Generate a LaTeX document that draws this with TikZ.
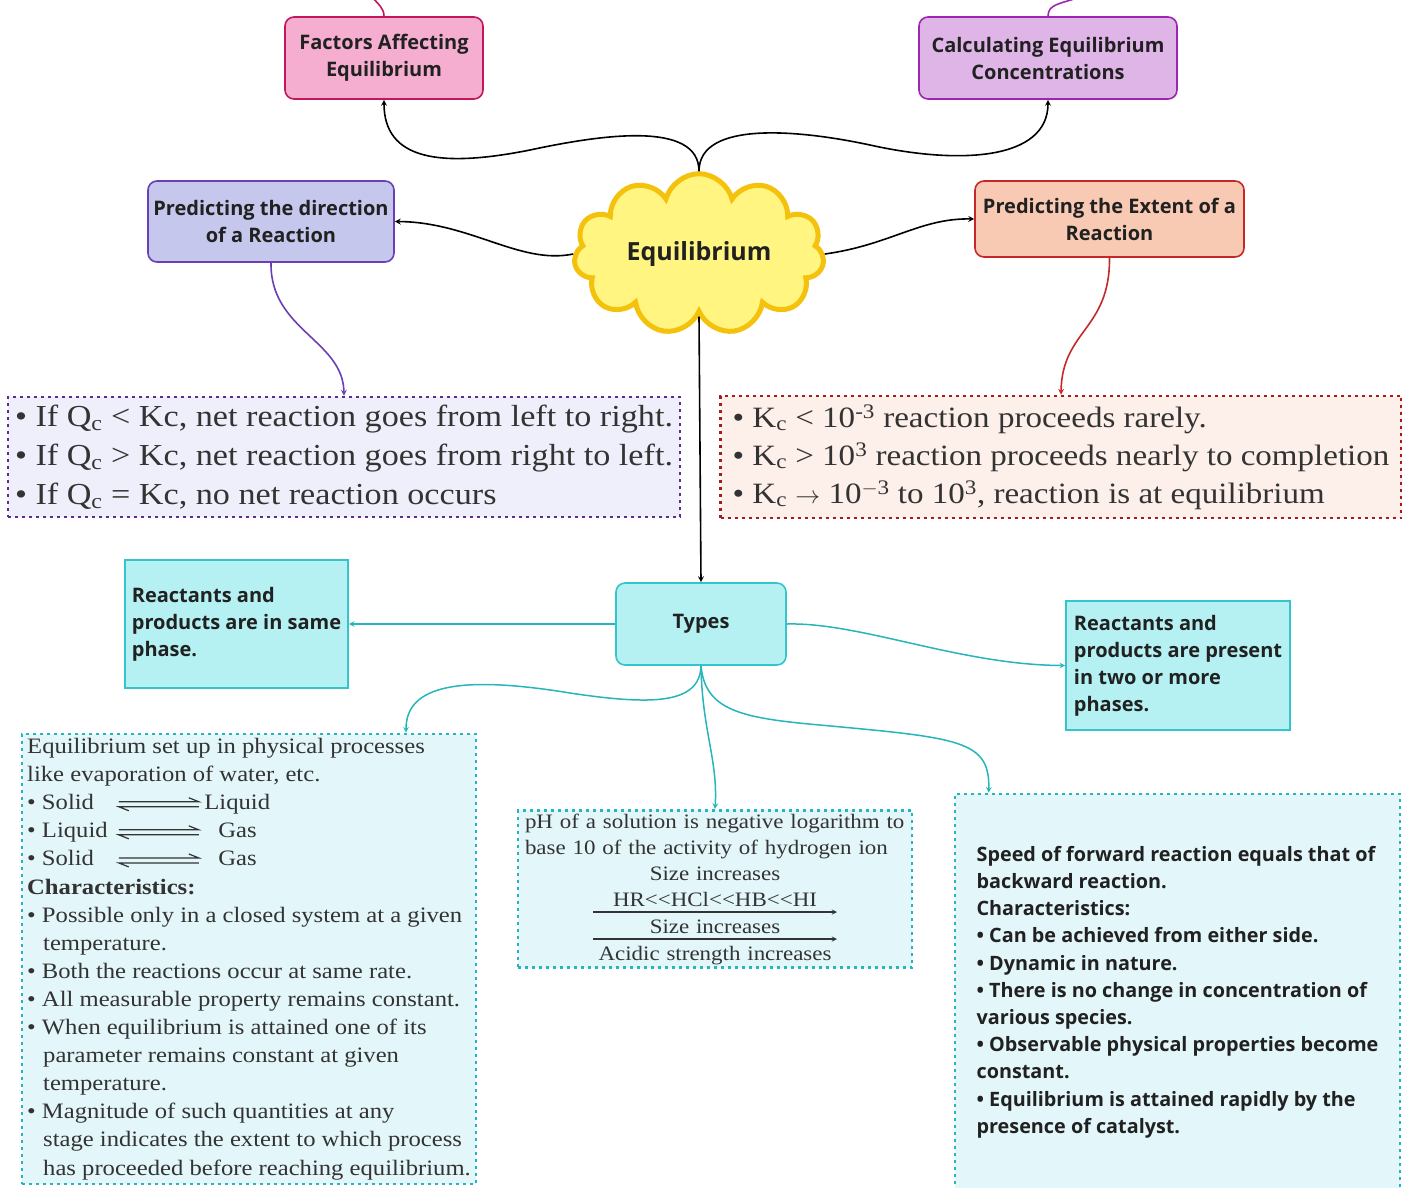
\documentclass[tikz,border=0pt]{standalone}
\usepackage{fontspec}
\setmainfont[FakeStretch=1.12]{Liberation Serif}
\setsansfont{Open Sans}
\usetikzlibrary{arrows.meta, positioning, shapes.symbols, calc}
\definecolor{rosaF}{HTML}{F5AECF}
\definecolor{rosaB}{HTML}{C2185B}
\definecolor{lilasF}{HTML}{DFB5E8}
\definecolor{lilasB}{HTML}{9C27B0}
\definecolor{lavF}{HTML}{C6C7EC}
\definecolor{lavB}{HTML}{6A3FB5}
\definecolor{pessF}{HTML}{F8C9B3}
\definecolor{pessB}{HTML}{C62828}
\definecolor{nuvF}{HTML}{FFF580}
\definecolor{nuvB}{HTML}{F4C20D}
\definecolor{qF}{HTML}{EFEFFB}
\definecolor{qB}{HTML}{5C2D91}
\definecolor{kF}{HTML}{FDEFE9}
\definecolor{kB}{HTML}{A61C1C}
\definecolor{tipoF}{HTML}{B5F1F3}
\definecolor{tipoB}{HTML}{35C4CB}
\definecolor{azulF}{HTML}{E3F6FA}
\definecolor{tealB}{HTML}{26B5BA}
\newcommand{\equilseta}{\tikz[baseline=0pt]{\draw[line width=1.2pt, solid, color=black!80] (0pt,8pt) -- (80pt,8pt) -- (70pt,12pt); \draw[line width=1.2pt, solid, color=black!80] (80pt,3pt) -- (0pt,3pt) -- (10pt,-1pt);}}
\newcommand{\setaph}{\tikz[baseline=0pt]{\draw[->, >=stealth, line width=1.3pt, solid, color=black!80] (0pt,0pt) -- (244pt,0pt);}}

\begin{document}
\begin{tikzpicture}[x=1pt, y=-1pt,
    caixa/.style={
        draw,
        line width=1.6pt,
        rounded corners=9pt,
        align=center,
        text=black!87,
        font=\sffamily\bfseries\fontsize{20}{27}\selectfont
    },
    tipo/.style={
        draw=tipoB,
        fill=tipoF,
        line width=1.6pt,
        align=left,
        text=black!87,
        font=\sffamily\bfseries\fontsize{20}{27}\selectfont
    },
    pontilhado/.style={
        draw,
        line width=2.6pt,
        dash pattern=on 3pt off 4pt,
        align=left,
        text=black!80
    },
    seta/.style={
        ->,
        >=stealth,
        line width=1.6pt
    },
    tseta/.style={
        seta,
        color=tealB,
        line width=1.5pt
    }
]

\useasboundingbox (0,0) rectangle (1402,1187);

% Equilibrium
\node[cloud, cloud puffs=11, aspect=1.8, draw=nuvB, fill=nuvF, line width=5pt,
      minimum width=250pt, minimum height=140pt, text=black!87,
      font=\sffamily\bfseries\fontsize{25}{30}\selectfont] (equil) at (699,254) {Equilibrium};

% Caixas de cima
\node[caixa, draw=rosaB, fill=rosaF, minimum width=198pt, minimum height=82pt] (fatores) at (384,58)
{Factors Affecting\\Equilibrium};
\node[caixa, draw=lilasB, fill=lilasF, minimum width=258pt, minimum height=82pt] (calculo) at (1048,58)
{Calculating Equilibrium\\Concentrations};
\node[caixa, draw=lavB, fill=lavF, minimum width=246pt, minimum height=81pt] (direcao) at (271,221.5)
{Predicting the direction\\of a Reaction};
\node[caixa, draw=pessB, fill=pessF, minimum width=269pt, minimum height=76pt] (extensao) at (1109.5,219)
{Predicting the Extent of a\\Reaction};

% Quociente e constante
\node[pontilhado, draw=qB, fill=qF, minimum width=672pt, minimum height=120pt, inner sep=3pt,
      font=\fontsize{30.5}{39}\selectfont] (quociente) at (344,457)
{• If Q\textsubscript{c} < Kc, net reaction goes from left to right.\\
 • If Q\textsubscript{c} > Kc, net reaction goes from right to left.\\
 • If Q\textsubscript{c} = Kc, no net reaction occurs};
\node[pontilhado, draw=kB, fill=kF, minimum width=681pt, minimum height=122pt, inner sep=3pt,
      font=\fontsize{29.5}{38}\selectfont] (constante) at (1061,457)
{• K\textsubscript{c} < 10\textsuperscript{-3} reaction proceeds rarely.\\
 • K\textsubscript{c} > 10\textsuperscript{3} reaction proceeds nearly to completion\\
 • K\textsubscript{c} $\rightarrow$ 10\textsuperscript{$-$3} to 10\textsuperscript{3}, reaction is at equilibrium};

% Tipos
\node[caixa, draw=tipoB, fill=tipoF, minimum width=170pt, minimum height=82pt] (tipos) at (701,624) {Types};
\node[tipo, minimum width=223pt, minimum height=128pt] (homog) at (236.5,624)
{Reactants and\\products are in same\\phase.};
\node[tipo, minimum width=224pt, minimum height=129pt] (heterog) at (1178,665.5)
{Reactants and\\products are present\\in two or more\\phases.};

% Caixas de baixo
\node[pontilhado, draw=tealB, fill=azulF, minimum width=454pt, minimum height=450pt, inner sep=3pt,
      font=\fontsize{22}{28.1}\selectfont] (fisico) at (249,959)
{Equilibrium set up in physical processes\\
 like evaporation of water, etc.\\
 \makebox[91pt][l]{• Solid}\equilseta\hspace{5pt}Liquid\\
 \makebox[91pt][l]{• Liquid}\equilseta\hspace{19pt}Gas\\
 \makebox[91pt][l]{• Solid}\equilseta\hspace{19pt}Gas\\
 \textbf{Characteristics:}\\
 • Possible only in a closed system at a given\\
 \hspace*{16pt}temperature.\\
 • Both the reactions occur at same rate.\\
 • All measurable property remains constant.\\
 • When equilibrium is attained one of its\\
 \hspace*{16pt}parameter remains constant at given\\
 \hspace*{16pt}temperature.\\
 • Magnitude of such quantities at any\\
 \hspace*{16pt}stage indicates the extent to which process\\
 \hspace*{16pt}has proceeded before reaching equilibrium.};
\node[pontilhado, draw=tealB, fill=azulF, text width=380pt, minimum height=154pt, inner xsep=7pt,
      font=\fontsize{20.5}{26}\selectfont] (ph) at (715,889)
{\mbox{pH of a solution is negative logarithm to}\\
 \mbox{base 10 of the activity of hydrogen ion}\par
 {\centering Size increases\\
  HR<{}<HCl<{}<HB<{}<HI\\[-20pt]
  \setaph\\[-5pt]
  Size increases\\[-20pt]
  \setaph\\[-5pt]
  Acidic strength increases\par}};
\node[pontilhado, draw=tealB, fill=azulF, minimum width=445pt, minimum height=396pt,
      text=black!87, font=\sffamily\bfseries\fontsize{19.8}{27.2}\selectfont] (dinamico) at (1177.5,992)
{Speed of forward reaction equals that of\\
 backward reaction.\\
 Characteristics:\\
 • Can be achieved from either side.\\
 • Dynamic in nature.\\
 • There is no change in concentration of\\
 various species.\\
 • Observable physical properties become\\
 constant.\\
 • Equilibrium is attained rapidly by the\\
 presence of catalyst.};

% Linhas que saem da figura
\coordinate (sobeF) at (372,-3);
\coordinate (sobeC) at (1080,-3);
\draw[line width=1.6pt, rosaB] (fatores.north) .. controls (384,8) and (378,4) .. (sobeF);
\draw[line width=1.6pt, lilasB] (calculo.north) .. controls (1048,4) and (1060,4) .. (sobeC);

% Setas
\draw[seta] (equil.north) .. controls (699,120) and (600,135) .. (530,150) .. controls (440,168) and (384,160) .. (fatores.south);
\draw[seta] (equil.north) .. controls (699,120) and (800,130) .. (870,145) .. controls (960,165) and (1048,160) .. (calculo.south);
\draw[seta] (equil.west) .. controls (520,265) and (470,222) .. (direcao.east);
\draw[seta] (equil.east) .. controls (890,245) and (920,218) .. (extensao.west);
\draw[seta] (equil.south) -- (tipos.north);
\draw[seta, color=lavB] (direcao.south) .. controls (270,330) and (343,340) .. (quociente.north);
\draw[seta, color=pessB] (extensao.south) .. controls (1110,330) and (1062,330) .. (constante.north);

\draw[tseta] (tipos.west) -- (homog.east);
\draw[tseta] (tipos.east) .. controls (860,622) and (960,665) .. (heterog.west);
\draw[tseta] (tipos.south) .. controls (700,705) and (650,705) .. (570,693) .. controls (460,675) and (406,685) .. ([xshift=157pt]fisico.north);
\draw[tseta] (tipos.south) .. controls (702,730) and (718,760) .. (ph.north);
\draw[tseta] (tipos.south) .. controls (705,710) and (740,718) .. (820,725) .. controls (960,738) and (990,740) .. ([xshift=35pt]dinamico.north west);

\end{tikzpicture}
\end{document}
